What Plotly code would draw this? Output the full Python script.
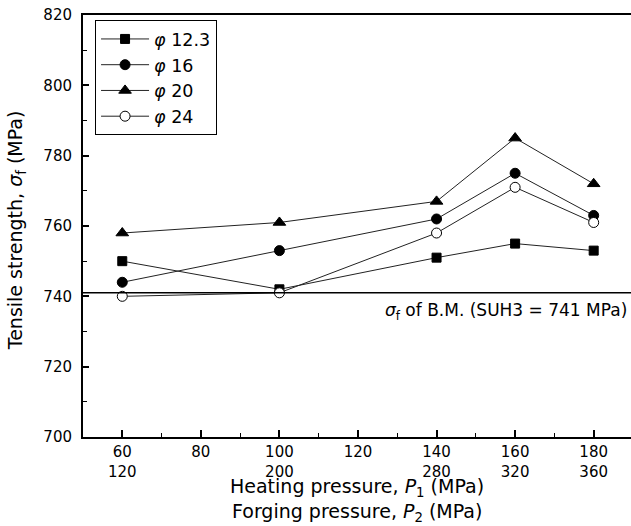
import plotly.graph_objects as go

# Heating pressure P1 (MPa) at each test point; forging pressure P2 is twice P1
heating_p = [60, 100, 140, 160, 180]

# Tensile strength (MPa) for each specimen diameter
ts_123 = [750, 742, 751, 755, 753]
ts_16 = [744, 753, 762, 775, 763]
ts_20 = [758, 761, 767, 785, 772]
ts_24 = [740, 741, 758, 771, 761]

series_names = ["<i>φ</i> 12.3", "<i>φ</i> 16", "<i>φ</i> 20", "<i>φ</i> 24"]

# Base metal tensile strength
bm_strength = 741

# Dual-row x tick labels: P1 on top, P2 below
x_tickvals = [60, 80, 100, 120, 140, 160, 180]
x_ticktext = ["60<br>120", "80", "100<br>200", "120", "140<br>280", "160<br>320", "180<br>360"]
y_tickvals = [700, 720, 740, 760, 780, 800, 820]

FONT = "DejaVu Sans, Arial, sans-serif"

styles = [
    dict(symbol="square", size=9, color="black", line=dict(color="black", width=1)),
    dict(symbol="circle", size=10, color="black", line=dict(color="black", width=1)),
    dict(symbol="triangle-up", size=11, color="black", line=dict(color="black", width=1)),
    dict(symbol="circle", size=10, color="white", line=dict(color="black", width=1)),
]

fig = go.Figure()
for name, vals, mk in zip(series_names, [ts_123, ts_16, ts_20, ts_24], styles):
    fig.add_trace(go.Scatter(
        x=heating_p, y=vals, name=name, mode="lines+markers",
        line=dict(color="#222222", width=1),
        marker=mk,
    ))

# Base-metal reference line
fig.add_shape(type="line", xref="paper", x0=0, x1=1, yref="y", y0=bm_strength, y1=bm_strength,
              line=dict(color="black", width=1.5))
fig.add_annotation(xref="paper", x=0.996, yref="y", y=bm_strength, yshift=-19,
                   xanchor="right", yanchor="middle", showarrow=False,
                   text="<i>σ</i><sub>f</sub> of B.M. (SUH3 = %d MPa)" % bm_strength,
                   font=dict(size=17, color="black", family=FONT))

# Axis titles
fig.add_annotation(xref="paper", x=0.5, yref="paper", y=0, yshift=-50,
                   xanchor="center", yanchor="middle", showarrow=False,
                   text="Heating pressure, <i>P</i><sub>1</sub> (MPa)",
                   font=dict(size=19, color="black", family=FONT))
fig.add_annotation(xref="paper", x=0.5, yref="paper", y=0, yshift=-75,
                   xanchor="center", yanchor="middle", showarrow=False,
                   text="Forging pressure, <i>P</i><sub>2</sub> (MPa)",
                   font=dict(size=19, color="black", family=FONT))
fig.add_annotation(xref="paper", x=0, xshift=-67, yref="paper", y=0.49,
                   xanchor="center", yanchor="middle", showarrow=False, textangle=-90,
                   text="Tensile strength, <i>σ</i><sub>f</sub> (MPa)",
                   font=dict(size=19, color="black", family=FONT))

fig.update_layout(
    width=631, height=526,
    margin=dict(l=83, r=0, t=15, b=89),
    paper_bgcolor="white", plot_bgcolor="white",
    font=dict(family=FONT, color="black"),
    showlegend=True,
    legend=dict(x=0.022, y=0.988, xanchor="left", yanchor="top",
                bgcolor="white", bordercolor="black", borderwidth=1,
                font=dict(size=17.5, color="black", family=FONT),
                itemwidth=48),
    xaxis=dict(range=[50, 189.5], showgrid=False, zeroline=False,
               showline=True, linecolor="black", linewidth=2, mirror=True,
               ticks="inside", ticklen=7, tickwidth=1.5, tickcolor="black",
               tickvals=x_tickvals, ticktext=x_ticktext,
               tickfont=dict(size=15, color="black", family=FONT),
               minor=dict(ticks="inside", ticklen=4, tickwidth=1, tickcolor="black", dtick=10, tick0=0)),
    yaxis=dict(range=[700, 820], showgrid=False, zeroline=False,
               showline=True, linecolor="black", linewidth=2,
               ticks="inside", ticklen=6, tickwidth=1.5, tickcolor="black",
               tickvals=y_tickvals, ticklabelstandoff=6,
               tickfont=dict(size=15, color="black", family=FONT),
               minor=dict(ticks="inside", ticklen=4, tickwidth=1, tickcolor="black", dtick=10, tick0=0)),
)

fig.write_html("out.html")
